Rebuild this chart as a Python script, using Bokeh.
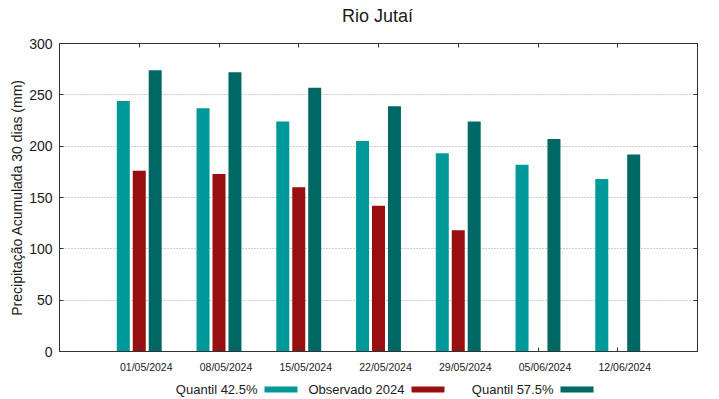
from bokeh.plotting import figure
from bokeh.layouts import column
from bokeh.models import Range1d, LinearAxis, FixedTicker, CustomJSTickFormatter
from bokeh.core.properties import value
from bokeh.embed import file_html
from bokeh.resources import INLINE

# ---- data ----
dates = ["01/05/2024", "08/05/2024", "15/05/2024", "22/05/2024",
         "29/05/2024", "05/06/2024", "12/06/2024"]
q425 = [244, 237, 224, 205, 193, 182, 168]
obs = [176, 173, 160, 142, 118]
q575 = [274, 272, 257, 239, 224, 207, 192]
yticks = [0, 50, 100, 150, 200, 250, 300]
series_names = ["Quantil 42.5%", "Observado 2024", "Quantil 57.5%"]
title_text = "Rio Jutaí"
ylabel = "Precipitação Acumulada 30 dias (mm)"

# ---- styles / layout ----
colors = ["#009999", "#990e0e", "#006864"]
FONT = "Liberation Sans"
W = 719
TH, MH, LH = 30, 346, 23          # title strip, main plot, legend strip heights
ML, MR, MT, MB = 59, 22, 13, 25
AX = "#333333"
TXT = "#1a1a1a"


def strip(height):
    # frames of a column are aligned with the main plot's frame,
    # so the x range spans the frame's pixel extent
    f = figure(width=W, height=height, output_backend="svg", toolbar_location=None,
               x_range=Range1d(ML, W - MR), y_range=Range1d(0, height),
               x_axis_location=None, y_axis_location=None, title=None,
               min_border=0, min_border_left=ML, min_border_right=MR,
               min_border_top=0, min_border_bottom=0)
    f.outline_line_color = None
    f.grid.visible = False
    return f


# ---- title strip ----
tf = strip(TH)
tf.text(x=[(ML + W - MR) / 2 - 1], y=[TH - 15], text=[title_text],
        text_align="center", text_baseline="alphabetic",
        text_font=value(FONT), text_font_size="18px", text_color=TXT)

# ---- main plot ----
p = figure(width=W, height=MH, output_backend="svg", toolbar_location=None,
           x_range=Range1d(-1, 7), y_range=Range1d(0, 300),
           x_axis_location=None, y_axis_location=None, title=None,
           min_border_left=ML, min_border_right=MR, min_border_top=MT,
           min_border_bottom=MB)
p.outline_line_color = AX
p.outline_line_width = 1

idx = list(range(len(dates)))
off = 0.2
bw = 0.163
p.vbar(x=[i - off for i in idx], top=q425, width=bw, bottom=0,
       fill_color=colors[0], line_color=None)
p.vbar(x=idx[:len(obs)], top=obs, width=bw, bottom=0,
       fill_color=colors[1], line_color=None)
p.vbar(x=[i + off for i in idx], top=q575, width=bw, bottom=0,
       fill_color=colors[2], line_color=None)

lab_shift = 0.088
xt = FixedTicker(ticks=[i + lab_shift for i in idx], minor_ticks=idx)
fmt = CustomJSTickFormatter(args=dict(labels=dates),
                            code="const k = Math.round(tick); return labels[k] || '';")
blank = CustomJSTickFormatter(code="return '';")


def style_x(ax, show_labels):
    ax.ticker = xt
    ax.axis_line_color = AX
    ax.major_tick_line_color = None
    ax.major_tick_in = 0
    ax.major_tick_out = 0
    ax.minor_tick_line_color = AX
    ax.minor_tick_in = 4
    ax.minor_tick_out = 0
    ax.major_label_text_font = FONT
    if show_labels:
        ax.formatter = fmt
        ax.major_label_text_color = TXT
        ax.major_label_text_font_size = "10.5px"
        ax.major_label_standoff = 9
    else:
        ax.formatter = blank
        ax.major_label_text_color = None
        ax.major_label_standoff = 0


xb = LinearAxis()
style_x(xb, True)
p.add_layout(xb, "below")
xa = LinearAxis()
style_x(xa, False)
p.add_layout(xa, "above")

yt = FixedTicker(ticks=yticks, minor_ticks=[])


def style_y(ax, show_labels):
    ax.ticker = yt
    ax.axis_line_color = AX
    ax.major_tick_line_color = AX
    ax.major_tick_in = 4
    ax.major_tick_out = 0
    ax.minor_tick_line_color = None
    ax.major_label_text_font = FONT
    if show_labels:
        ax.major_label_text_color = TXT
        ax.major_label_text_font_size = "14px"
        ax.major_label_standoff = 7
        ax.axis_label = ylabel
        ax.axis_label_text_font = FONT
        ax.axis_label_text_font_style = "normal"
        ax.axis_label_text_font_size = "14px"
        ax.axis_label_text_color = TXT
        ax.axis_label_standoff = 1
    else:
        ax.formatter = blank
        ax.major_label_text_color = None
        ax.major_label_standoff = 0


yl = LinearAxis()
style_y(yl, True)
p.add_layout(yl, "left")
yr = LinearAxis()
style_y(yr, False)
p.add_layout(yr, "right")

p.xgrid.visible = False
p.ygrid.ticker = yt
p.ygrid.grid_line_color = "#9a9a9a"
p.ygrid.grid_line_dash = "1 2"
p.ygrid.grid_line_width = 1

# ---- legend strip (gnuplot style: text, then sample) ----
lf = strip(LH)
text_right = [257, 404, 553]
gap, sw_w, sw_h, sw_base, txt_base = 7, 33, 6, 7, 10
lf.text(x=text_right, y=[txt_base] * 3, text=series_names,
        text_align="right", text_baseline="alphabetic",
        text_font=value(FONT), text_font_size="13px", text_color=TXT)
lf.quad(left=[t + gap for t in text_right], right=[t + gap + sw_w for t in text_right],
        bottom=[sw_base] * 3, top=[sw_base + sw_h] * 3,
        fill_color=colors, line_color=None)

layout = column(tf, p, lf, spacing=0)
open("out.html", "w").write(file_html(layout, INLINE))
